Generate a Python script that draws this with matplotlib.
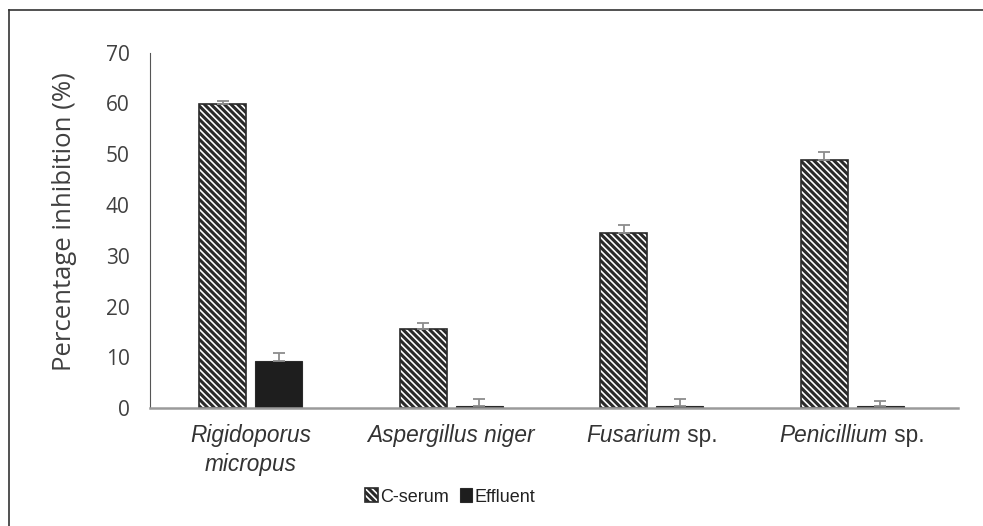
import matplotlib
matplotlib.use("Agg")
import matplotlib.pyplot as plt
import matplotlib.transforms as mtransforms
import numpy as np
from matplotlib.lines import Line2D

genus = ["Rigidoporus\nmicropus", "Aspergillus niger", "Fusarium", "Penicillium"]
suffixes = ["", "", " sp.", " sp."]
cserum = [59.8, 15.5, 34.5, 48.8]
cserum_err = [0.6, 1.2, 1.6, 1.6]
effluent = [9.2, 0.4, 0.4, 0.4]
effluent_err = [1.6, 1.4, 1.4, 1.0]
yticks = [0, 10, 20, 30, 40, 50, 60, 70]
series_names = ["C-serum", "Effluent"]

plt.rcParams['hatch.linewidth'] = 2.2
plt.rcParams['hatch.color'] = '#1a1a1a'

fig = plt.figure(figsize=(9.83, 5.26), dpi=100)
ax = fig.add_axes([0.153, 0.224, 0.822, 0.676])

x = np.arange(len(genus))
w = 0.235
off = 0.14
ekw = dict(ecolor='#8c8c8c', capsize=4.3, elinewidth=1.3, capthick=1.3)
ax.bar(x - off, cserum, w, color='white', edgecolor='#2a2a2a', hatch='\\\\\\\\\\', linewidth=1.2,
       yerr=[np.zeros(len(cserum)), cserum_err], error_kw=ekw, label=series_names[0])
ax.bar(x + off, effluent, w, color='#1e1e1e', edgecolor='#2a2a2a', linewidth=0.8,
       yerr=[np.zeros(len(effluent)), effluent_err], error_kw=ekw, label=series_names[1])

ax.set_xlim(-0.5, 3.53)
ax.set_ylim(0, 70)
ax.set_yticks(yticks)
ax.set_yticklabels([str(v) for v in yticks], fontfamily='Open Sans')
ax.tick_params(axis='y', length=0, labelsize=15, colors='#404040', pad=15)
ax.tick_params(axis='x', length=0)
ax.set_xticks(x)
ax.set_xticklabels([''] * len(genus))
ax.set_ylabel('Percentage inhibition (%)', fontsize=18.5, color='#404040',
              fontfamily='Open Sans')
ax.yaxis.set_label_coords(-0.091, 0.525)
for s in ['top', 'right']:
    ax.spines[s].set_visible(False)
ax.spines['left'].set_color('#555555')
ax.spines['bottom'].set_color('#9a9a9a')
ax.spines['bottom'].set_linewidth(1.8)

# category labels with italic genus names
fs = 16.3
ylab = -0.045
trans = ax.get_xaxis_transform()
pairs = []
for i in range(len(genus)):
    t1 = ax.text(i, ylab, genus[i], transform=trans, ha='center' if not suffixes[i] else 'left',
                 va='top', fontsize=fs, style='italic', color='#333333', linespacing=1.3,
                 fontfamily='Liberation Sans')
    if suffixes[i]:
        t2 = ax.text(i, ylab, suffixes[i], transform=trans, ha='left', va='top',
                     fontsize=fs, color='#333333', fontfamily='Liberation Sans')
        pairs.append((i, t1, t2))
fig.canvas.draw()
r = fig.canvas.get_renderer()
for i, t1, t2 in pairs:
    w1 = t1.get_window_extent(r).width
    w2 = t2.get_window_extent(r).width
    W = w1 + w2
    t1.set_transform(mtransforms.offset_copy(trans, fig=fig, x=-W / 2, y=0, units='dots'))
    t2.set_transform(mtransforms.offset_copy(trans, fig=fig, x=-W / 2 + w1, y=0, units='dots'))

leg = ax.legend(loc='upper center', bbox_to_anchor=(0.371, -0.18), ncol=2, frameon=False,
                handlelength=0.7, handleheight=0.8, handletextpad=0.12, columnspacing=0.6,
                prop={'family': 'Liberation Sans', 'size': 13})
for t in leg.get_texts():
    t.set_color('#222222')

# outer frame
fig.add_artist(Line2D([0.009, 0.009], [0.0, 0.981], color='#333333', lw=1.2, transform=fig.transFigure))
fig.add_artist(Line2D([0.009, 1.0], [0.981, 0.981], color='#333333', lw=1.2, transform=fig.transFigure))

fig.savefig('out.png', dpi=100)
